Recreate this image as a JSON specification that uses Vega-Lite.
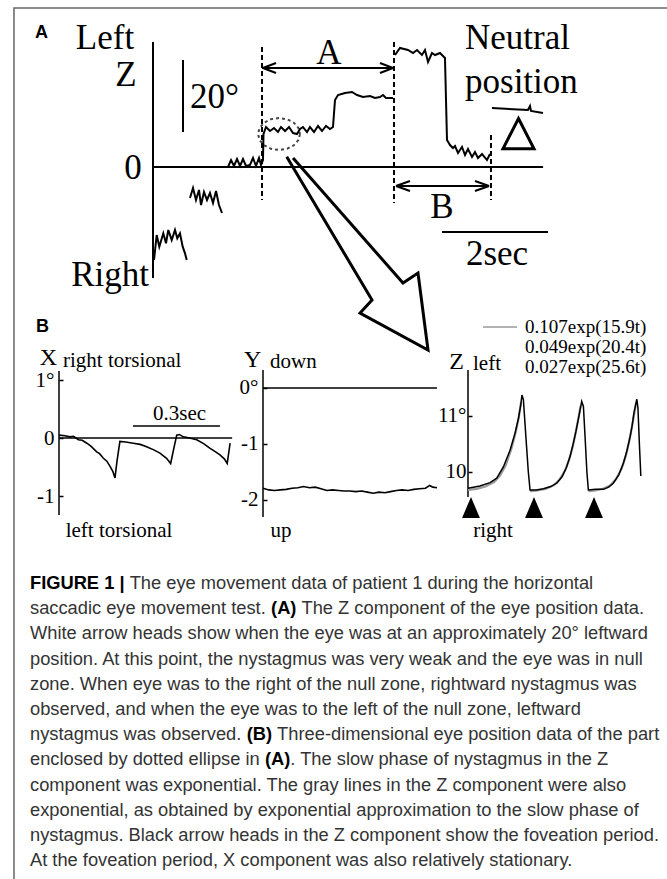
{
  "$schema": "https://vega.github.io/schema/vega-lite/v6.json",
  "width": 667,
  "height": 879,
  "autosize": {"type": "none"},
  "padding": 0,
  "background": "white",
  "config": {"view": {"stroke": null}},
  "datasets": {
    "a_trace": [
      {"seg":1,"t":0.019,"d":-25.83},{"seg":1,"t":0.070,"d":-18.89},{"seg":1,"t":0.119,"d":-22.14},{"seg":1,"t":0.194,"d":-18.42},{"seg":1,"t":0.245,"d":-21.19},{"seg":1,"t":0.289,"d":-17.5},{"seg":1,"t":0.353,"d":-20.28},{"seg":1,"t":0.415,"d":-17.5},{"seg":1,"t":0.458,"d":-19.81},{"seg":1,"t":0.509,"d":-18.42},{"seg":1,"t":0.560,"d":-22.14},{"seg":1,"t":0.604,"d":-23.97},{"seg":1,"t":0.636,"d":-25.83},
      {"seg":2,"t":0.698,"d":-8.61},{"seg":2,"t":0.755,"d":-5.83},{"seg":2,"t":0.811,"d":-9.17},{"seg":2,"t":0.868,"d":-6.39},{"seg":2,"t":0.906,"d":-10.56},{"seg":2,"t":0.962,"d":-6.94},{"seg":2,"t":1.019,"d":-9.17},{"seg":2,"t":1.075,"d":-7.22},{"seg":2,"t":1.132,"d":-10.0},{"seg":2,"t":1.189,"d":-6.67},{"seg":2,"t":1.245,"d":-10.56},{"seg":2,"t":1.302,"d":-12.78},
      {"seg":3,"t":1.415,"d":0},{"seg":3,"t":1.472,"d":1.94},{"seg":3,"t":1.528,"d":0.28},{"seg":3,"t":1.585,"d":2.22},{"seg":3,"t":1.642,"d":0.28},{"seg":3,"t":1.698,"d":2.22},{"seg":3,"t":1.755,"d":0.28},{"seg":3,"t":1.83,"d":0.56},{"seg":3,"t":1.887,"d":2.5},{"seg":3,"t":1.943,"d":0.28},{"seg":3,"t":2.0,"d":2.5},{"seg":3,"t":2.038,"d":0.56},{"seg":3,"t":2.075,"d":1.94},{"seg":3,"t":2.085,"d":9.17},{"seg":3,"t":2.132,"d":11.11},{"seg":3,"t":2.208,"d":10.0},{"seg":3,"t":2.283,"d":10.83},{"seg":3,"t":2.358,"d":9.72},{"seg":3,"t":2.415,"d":11.11},{"seg":3,"t":2.491,"d":10.0},{"seg":3,"t":2.566,"d":11.11},{"seg":3,"t":2.642,"d":9.44},{"seg":3,"t":2.717,"d":9.17},{"seg":3,"t":2.774,"d":10.56},{"seg":3,"t":2.83,"d":11.11},{"seg":3,"t":2.906,"d":9.72},{"seg":3,"t":2.962,"d":11.11},{"seg":3,"t":3.038,"d":9.72},{"seg":3,"t":3.113,"d":11.39},{"seg":3,"t":3.189,"d":10.0},{"seg":3,"t":3.264,"d":11.39},{"seg":3,"t":3.34,"d":10.56},{"seg":3,"t":3.396,"d":11.11},{"seg":3,"t":3.434,"d":18.61},{"seg":3,"t":3.491,"d":20.0},{"seg":3,"t":3.623,"d":20.56},{"seg":3,"t":3.755,"d":20.83},{"seg":3,"t":3.849,"d":20.0},{"seg":3,"t":3.962,"d":19.44},{"seg":3,"t":4.094,"d":19.72},{"seg":3,"t":4.189,"d":19.17},{"seg":3,"t":4.283,"d":19.44},{"seg":3,"t":4.34,"d":20.0},{"seg":3,"t":4.396,"d":19.17},{"seg":3,"t":4.528,"d":19.17},
      {"seg":4,"t":4.566,"d":31.11},{"seg":4,"t":4.66,"d":33.06},{"seg":4,"t":4.811,"d":32.5},{"seg":4,"t":4.906,"d":31.67},{"seg":4,"t":4.981,"d":32.5},{"seg":4,"t":5.075,"d":31.11},{"seg":4,"t":5.132,"d":32.5},{"seg":4,"t":5.189,"d":29.17},{"seg":4,"t":5.264,"d":31.67},{"seg":4,"t":5.321,"d":31.11},{"seg":4,"t":5.415,"d":31.67},{"seg":4,"t":5.509,"d":30.28},{"seg":4,"t":5.547,"d":7.5},{"seg":4,"t":5.604,"d":6.11},{"seg":4,"t":5.66,"d":5.28},{"seg":4,"t":5.698,"d":5.83},{"seg":4,"t":5.755,"d":3.89},{"seg":4,"t":5.83,"d":5.56},{"seg":4,"t":5.887,"d":3.33},{"seg":4,"t":5.943,"d":5.0},{"seg":4,"t":6.019,"d":2.78},{"seg":4,"t":6.075,"d":4.17},{"seg":4,"t":6.132,"d":2.5},{"seg":4,"t":6.208,"d":3.61},{"seg":4,"t":6.302,"d":1.94},{"seg":4,"t":6.358,"d":3.61},
      {"seg":5,"t":6.396,"d":16.39},{"seg":5,"t":7.075,"d":15.83},{"seg":5,"t":7.113,"d":16.94},{"seg":5,"t":7.132,"d":15.56},{"seg":5,"t":7.358,"d":15.0}
    ],
    "a_rule": [
      {"t":0,"d":34.72,"t2":0,"d2":-30.83},
      {"t":0,"d":0,"t2":7.36,"d2":0},
      {"t":0.566,"d":29.72,"t2":0.566,"d2":9.72},
      {"t":2.057,"d":27.5,"t2":4.547,"d2":27.5},
      {"t":2.075,"d":27.5,"t2":2.321,"d2":28.89},
      {"t":2.075,"d":27.5,"t2":2.321,"d2":26.11},
      {"t":4.528,"d":27.5,"t2":4.283,"d2":28.89},
      {"t":4.528,"d":27.5,"t2":4.283,"d2":26.11},
      {"t":4.585,"d":-5.28,"t2":6.34,"d2":-5.28},
      {"t":4.585,"d":-5.28,"t2":4.849,"d2":-3.89},
      {"t":4.585,"d":-5.28,"t2":4.849,"d2":-6.67},
      {"t":6.34,"d":-5.28,"t2":6.075,"d2":-3.89},
      {"t":6.34,"d":-5.28,"t2":6.075,"d2":-6.67},
      {"t":5.453,"d":-18.06,"t2":7.453,"d2":-18.06}
    ],
    "a_dash": [
      {"t":2.057,"d":33.33,"d2":-9.17},
      {"t":4.547,"d":34.72,"d2":-10.0},
      {"t":6.377,"d":8.89,"d2":-9.17}
    ],
    "a_border": [
      {"t":9.698,"d":44.17},{"t":-2.623,"d":44.17},{"t":-2.623,"d":-197.78}
    ],
    "a_ellipse": [
      {"t":2.774,"d":9.17},{"t":2.743,"d":7.47},{"t":2.657,"d":6.03},{"t":2.528,"d":5.06},{"t":2.377,"d":4.72},{"t":2.226,"d":5.06},{"t":2.098,"d":6.03},{"t":2.011,"d":7.47},{"t":1.981,"d":9.17},{"t":2.011,"d":10.86},{"t":2.098,"d":12.31},{"t":2.226,"d":13.28},{"t":2.377,"d":13.61},{"t":2.528,"d":13.28},{"t":2.657,"d":12.31},{"t":2.743,"d":10.86},{"t":2.774,"d":9.17}
    ],
    "a_arrow": [
      {"t":2.523,"d":2.86},{"t":4.132,"d":-36.94},{"t":3.906,"d":-40.56},{"t":5.189,"d":-50.83},{"t":5.0,"d":-29.44},{"t":4.717,"d":-32.22},{"t":2.642,"d":2.5}
    ],
    "a_delta": [{"t":6.896,"d":9.17}],
    "a_text_c": [
      {"t":-0.906,"d":35.83,"s":"Left"},
      {"t":-0.509,"d":25.56,"s":"Z"},
      {"t":-0.377,"d":-0.28,"s":"0"},
      {"t":-0.811,"d":-30.0,"s":"Right"},
      {"t":3.321,"d":31.67,"s":"A"},
      {"t":5.453,"d":-11.11,"s":"B"},
      {"t":6.491,"d":-24.17,"s":"2sec"}
    ],
    "a_text_l": [
      {"t":0.698,"d":19.44,"s":"20°"},
      {"t":5.887,"d":35.83,"s":"Neutral"},
      {"t":5.887,"d":23.61,"s":"position"}
    ],
    "a_label": [
      {"t":-2.104,"d":37.22,"s":"A"},
      {"t":-2.085,"d":-44.31,"s":"B"}
    ],
    "x_rule": [
      {"t":0,"v":1.155,"t2":0,"v2":-1.328},
      {"t":0,"v":0,"t2":0.597,"v2":0},
      {"t":0.255,"v":0.207,"t2":0.555,"v2":0.207}
    ],
    "x_trace": [
      {"t":0.0,"v":0.05},{"t":0.02,"v":0.04},{"t":0.038,"v":0.02},{"t":0.05,"v":0.03},{"t":0.067,"v":-0.03},{"t":0.08,"v":-0.04},{"t":0.096,"v":-0.09},{"t":0.11,"v":-0.14},{"t":0.13,"v":-0.24},{"t":0.14,"v":-0.27},{"t":0.153,"v":-0.35},{"t":0.165,"v":-0.4},{"t":0.176,"v":-0.49},{"t":0.186,"v":-0.58},{"t":0.193,"v":-0.69},{"t":0.2,"v":-0.4},{"t":0.21,"v":-0.06},{"t":0.23,"v":-0.07},{"t":0.256,"v":-0.09},{"t":0.28,"v":-0.11},{"t":0.302,"v":-0.15},{"t":0.325,"v":-0.2},{"t":0.348,"v":-0.26},{"t":0.36,"v":-0.31},{"t":0.371,"v":-0.35},{"t":0.385,"v":-0.44},{"t":0.395,"v":-0.2},{"t":0.406,"v":0.05},{"t":0.415,"v":0.06},{"t":0.429,"v":0.02},{"t":0.45,"v":0.0},{"t":0.475,"v":-0.03},{"t":0.5,"v":-0.1},{"t":0.521,"v":-0.18},{"t":0.54,"v":-0.24},{"t":0.555,"v":-0.29},{"t":0.57,"v":-0.36},{"t":0.58,"v":-0.44},{"t":0.59,"v":-0.09}
    ],
    "x_text_c": [
      {"t":0.4155,"v":0.422,"s":"0.3sec"},
      {"t":0.207,"v":-1.603,"s":"left torsional"}
    ],
    "x_text_big": [{"t":-0.0362,"v":1.371,"s":"X"}],
    "x_text_l": [{"t":0.0138,"v":1.328,"s":"right torsional"}],
    "y_rule": [
      {"t":0,"v":0.321,"t2":0,"v2":-2.304},
      {"t":0,"v":0,"t2":0.6,"v2":0}
    ],
    "y_trace": [
      {"t":0.0,"v":-1.79},{"t":0.02,"v":-1.82},{"t":0.04,"v":-1.83},{"t":0.06,"v":-1.82},{"t":0.08,"v":-1.81},{"t":0.1,"v":-1.79},{"t":0.12,"v":-1.78},{"t":0.14,"v":-1.76},{"t":0.16,"v":-1.78},{"t":0.18,"v":-1.77},{"t":0.2,"v":-1.80},{"t":0.22,"v":-1.83},{"t":0.24,"v":-1.82},{"t":0.26,"v":-1.83},{"t":0.28,"v":-1.84},{"t":0.3,"v":-1.84},{"t":0.32,"v":-1.85},{"t":0.34,"v":-1.84},{"t":0.36,"v":-1.86},{"t":0.38,"v":-1.88},{"t":0.4,"v":-1.86},{"t":0.42,"v":-1.87},{"t":0.44,"v":-1.85},{"t":0.46,"v":-1.83},{"t":0.48,"v":-1.82},{"t":0.5,"v":-1.83},{"t":0.52,"v":-1.81},{"t":0.54,"v":-1.80},{"t":0.56,"v":-1.79},{"t":0.575,"v":-1.74},{"t":0.585,"v":-1.77},{"t":0.6,"v":-1.78}
    ],
    "y_text_big": [{"t":-0.036,"v":0.5,"s":"Y"}],
    "y_text_l": [{"t":0.0241,"v":0.464,"s":"down"}],
    "y_text_c": [{"t":0.062,"v":-2.554,"s":"up"}],
    "z_rule": [{"t":0,"v":11.821,"t2":0,"v2":9.554}],
    "z_legend": [{"t":0.0517,"v":12.589,"t2":0.169,"v2":12.589}],
    "z_trace": [
      {"t":0.0,"v":9.71},{"t":0.041,"v":9.75},{"t":0.076,"v":9.81},{"t":0.099,"v":9.89},{"t":0.122,"v":10.09},{"t":0.145,"v":10.39},{"t":0.162,"v":10.69},{"t":0.174,"v":10.96},{"t":0.182,"v":11.2},{"t":0.186,"v":11.375},{"t":0.191,"v":11.29},{"t":0.2,"v":10.6},{"t":0.208,"v":10.0},{"t":0.214,"v":9.68},{"t":0.235,"v":9.68},{"t":0.26,"v":9.7},{"t":0.285,"v":9.74},{"t":0.306,"v":9.8},{"t":0.325,"v":9.92},{"t":0.34,"v":10.09},{"t":0.352,"v":10.28},{"t":0.363,"v":10.51},{"t":0.372,"v":10.72},{"t":0.38,"v":10.93},{"t":0.387,"v":11.12},{"t":0.392,"v":11.26},{"t":0.398,"v":11.17},{"t":0.405,"v":10.5},{"t":0.41,"v":10.0},{"t":0.415,"v":9.68},{"t":0.44,"v":9.69},{"t":0.467,"v":9.69},{"t":0.485,"v":9.73},{"t":0.501,"v":9.8},{"t":0.52,"v":9.95},{"t":0.536,"v":10.16},{"t":0.548,"v":10.38},{"t":0.559,"v":10.63},{"t":0.566,"v":10.83},{"t":0.572,"v":11.05},{"t":0.578,"v":11.2},{"t":0.582,"v":11.3},{"t":0.586,"v":11.15},{"t":0.591,"v":10.5},{"t":0.596,"v":9.93}
    ],
    "z_fit": [
      {"seg":1,"t":0.0,"v":9.68},{"seg":1,"t":0.03,"v":9.7},{"seg":1,"t":0.06,"v":9.74},{"seg":1,"t":0.09,"v":9.82},{"seg":1,"t":0.11,"v":9.93},{"seg":1,"t":0.13,"v":10.12},{"seg":1,"t":0.15,"v":10.42},{"seg":1,"t":0.165,"v":10.72},{"seg":1,"t":0.175,"v":10.97},{"seg":1,"t":0.183,"v":11.25},
      {"seg":2,"t":0.214,"v":9.66},{"seg":2,"t":0.24,"v":9.67},{"seg":2,"t":0.27,"v":9.7},{"seg":2,"t":0.295,"v":9.76},{"seg":2,"t":0.315,"v":9.86},{"seg":2,"t":0.335,"v":10.03},{"seg":2,"t":0.35,"v":10.24},{"seg":2,"t":0.362,"v":10.47},{"seg":2,"t":0.372,"v":10.72},{"seg":2,"t":0.381,"v":10.97},{"seg":2,"t":0.388,"v":11.18},
      {"seg":3,"t":0.415,"v":9.66},{"seg":3,"t":0.44,"v":9.67},{"seg":3,"t":0.465,"v":9.7},{"seg":3,"t":0.49,"v":9.76},{"seg":3,"t":0.51,"v":9.87},{"seg":3,"t":0.53,"v":10.06},{"seg":3,"t":0.545,"v":10.3},{"seg":3,"t":0.556,"v":10.55},{"seg":3,"t":0.566,"v":10.82},{"seg":3,"t":0.574,"v":11.06},{"seg":3,"t":0.58,"v":11.24}
    ],
    "z_tri": [{"t":0.0103,"v":9.366},{"t":0.2276,"v":9.366},{"t":0.4345,"v":9.366}],
    "z_text_big": [{"t":-0.0397,"v":11.973,"s":"Z"}],
    "z_text_l": [{"t":0.0172,"v":11.929,"s":"left"}],
    "z_text_c": [{"t":0.0862,"v":8.946,"s":"right"}],
    "z_legend_text": [
      {"t":0.1966,"v":12.589,"s":"0.107exp(15.9t)"},
      {"t":0.1966,"v":12.232,"s":"0.049exp(20.4t)"},
      {"t":0.1966,"v":11.875,"s":"0.027exp(25.6t)"}
    ],
    "cap_r": [
      {"line":1,"em":5.448,"s":"The eye movement data of patient 1 during the horizontal"},
      {"line":2,"em":0,"s":"saccadic eye movement test."},
      {"line":2,"em":14.838,"s":"The Z component of the eye position data."},
      {"line":3,"em":0,"s":"White arrow heads show when the eye was at an approximately 20° leftward"},
      {"line":4,"em":0,"s":"position. At this point, the nystagmus was very weak and the eye was in null"},
      {"line":5,"em":0,"s":"zone. When eye was to the right of the null zone, rightward nystagmus was"},
      {"line":6,"em":0,"s":"observed, and when the eye was to the left of the null zone, leftward"},
      {"line":7,"em":0,"s":"nystagmus was observed."},
      {"line":7,"em":13.504,"s":"Three-dimensional eye position data of the part"},
      {"line":8,"em":0,"s":"enclosed by dotted ellipse in"},
      {"line":8,"em":14.228,"s":". The slow phase of nystagmus in the Z"},
      {"line":9,"em":0,"s":"component was exponential. The gray lines in the Z component were also"},
      {"line":10,"em":0,"s":"exponential, as obtained by exponential approximation to the slow phase of"},
      {"line":11,"em":0,"s":"nystagmus. Black arrow heads in the Z component show the foveation period."},
      {"line":12,"em":0,"s":"At the foveation period, X component was also relatively stationary."}
    ],
    "cap_b": [
      {"line":1,"em":0,"s":"FIGURE 1 |"},
      {"line":2,"em":13.172,"s":"(A)"},
      {"line":7,"em":11.838,"s":"(B)"},
      {"line":8,"em":12.84,"s":"(A)"}
    ]
  },
  "layer": [
    {
      "encoding": {
        "x": {"field": "t", "type": "quantitative", "scale": {"domain": [-2.8868, 9.6981], "nice": false, "zero": false}, "axis": null},
        "y": {"field": "d", "type": "quantitative", "scale": {"domain": [-197.78, 46.39], "nice": false, "zero": false}, "axis": null}
      },
      "layer": [
        {"data": {"name": "a_border"}, "mark": {"type": "line", "color": "#666", "strokeWidth": 1.5}, "encoding": {"order": {"value": null}}},
        {"data": {"name": "a_rule"}, "mark": {"type": "rule", "color": "black", "strokeWidth": 2}, "encoding": {"x2": {"field": "t2"}, "y2": {"field": "d2"}}},
        {"data": {"name": "a_dash"}, "mark": {"type": "rule", "color": "black", "strokeWidth": 2, "strokeDash": [5, 3]}, "encoding": {"y2": {"field": "d2"}}},
        {"data": {"name": "a_ellipse"}, "mark": {"type": "line", "color": "#444", "strokeWidth": 2, "strokeDash": [3, 3]}, "encoding": {"order": {"value": null}}},
        {"data": {"name": "a_arrow"}, "mark": {"type": "line", "color": "black", "strokeWidth": 3, "strokeJoin": "miter"}, "encoding": {"order": {"value": null}}},
        {"data": {"name": "a_trace"}, "mark": {"type": "line", "color": "black", "strokeWidth": 2}, "encoding": {"detail": {"field": "seg", "type": "nominal"}, "order": {"value": null}}},
        {"data": {"name": "a_delta"}, "mark": {"type": "point", "shape": "M0,-1L1,0.95L-1,0.95Z", "size": 961, "filled": false, "color": "black", "strokeWidth": 3, "opacity": 1}},
        {"data": {"name": "a_text_c"}, "mark": {"type": "text", "font": "Liberation Serif", "fontSize": 35, "align": "center", "baseline": "middle", "color": "black"}, "encoding": {"text": {"field": "s"}}},
        {"data": {"name": "a_text_l"}, "mark": {"type": "text", "font": "Liberation Serif", "fontSize": 35, "align": "left", "baseline": "middle", "color": "black"}, "encoding": {"text": {"field": "s"}}},
        {"data": {"name": "a_label"}, "mark": {"type": "text", "font": "Liberation Sans", "fontWeight": "bold", "fontSize": 18, "align": "center", "baseline": "middle", "color": "black"}, "encoding": {"text": {"field": "s"}}}
      ]
    },
    {
      "encoding": {
        "x": {"field": "t", "type": "quantitative", "scale": {"domain": [-0.20345, 2.09655], "nice": false, "zero": false}, "axis": null},
        "y": {"field": "v", "type": "quantitative", "scale": {"domain": [-7.6034, 7.5517], "nice": false, "zero": false},
          "axis": {"orient": "left", "offset": -59, "values": [1, 0, -1], "labelExpr": "datum.value == 1 ? '1°' : datum.value == 0 ? '0' : '-1'", "domain": false, "grid": false, "ticks": true, "tickSize": -4, "tickWidth": 1.5, "tickColor": "black", "labelFont": "Liberation Serif", "labelFontSize": 21, "labelColor": "black", "labelPadding": 9, "title": null}}
      },
      "layer": [
        {"data": {"name": "x_rule"}, "mark": {"type": "rule", "color": "black", "strokeWidth": 1.5}, "encoding": {"x2": {"field": "t2"}, "y2": {"field": "v2"}}},
        {"data": {"name": "x_trace"}, "mark": {"type": "line", "color": "black", "strokeWidth": 1.6}, "encoding": {"order": {"value": null}}},
        {"data": {"name": "x_text_big"}, "mark": {"type": "text", "font": "Liberation Serif", "fontSize": 24, "align": "center", "baseline": "middle", "color": "black"}, "encoding": {"text": {"field": "s"}}},
        {"data": {"name": "x_text_l"}, "mark": {"type": "text", "font": "Liberation Serif", "fontSize": 21, "align": "left", "baseline": "middle", "color": "black"}, "encoding": {"text": {"field": "s"}}},
        {"data": {"name": "x_text_c"}, "mark": {"type": "text", "font": "Liberation Serif", "fontSize": 21, "align": "center", "baseline": "middle", "color": "black"}, "encoding": {"text": {"field": "s"}}}
      ]
    },
    {
      "encoding": {
        "x": {"field": "t", "type": "quantitative", "scale": {"domain": [-0.9069, 1.3931], "nice": false, "zero": false}, "axis": null},
        "y": {"field": "v", "type": "quantitative", "scale": {"domain": [-8.7679, 6.9286], "nice": false, "zero": false},
          "axis": {"orient": "left", "offset": -263, "values": [0, -1, -2], "labelExpr": "datum.value == 0 ? '0°' : datum.value == -1 ? '-1' : '-2'", "domain": false, "grid": false, "ticks": true, "tickSize": -4, "tickWidth": 1.5, "tickColor": "black", "labelFont": "Liberation Serif", "labelFontSize": 21, "labelColor": "black", "labelPadding": 9, "title": null}}
      },
      "layer": [
        {"data": {"name": "y_rule"}, "mark": {"type": "rule", "color": "black", "strokeWidth": 1.5}, "encoding": {"x2": {"field": "t2"}, "y2": {"field": "v2"}}},
        {"data": {"name": "y_trace"}, "mark": {"type": "line", "color": "black", "strokeWidth": 1.6}, "encoding": {"order": {"value": null}}},
        {"data": {"name": "y_text_big"}, "mark": {"type": "text", "font": "Liberation Serif", "fontSize": 24, "align": "center", "baseline": "middle", "color": "black"}, "encoding": {"text": {"field": "s"}}},
        {"data": {"name": "y_text_l"}, "mark": {"type": "text", "font": "Liberation Serif", "fontSize": 21, "align": "left", "baseline": "middle", "color": "black"}, "encoding": {"text": {"field": "s"}}},
        {"data": {"name": "y_text_c"}, "mark": {"type": "text", "font": "Liberation Serif", "fontSize": 21, "align": "center", "baseline": "middle", "color": "black"}, "encoding": {"text": {"field": "s"}}}
      ]
    },
    {
      "encoding": {
        "x": {"field": "t", "type": "quantitative", "scale": {"domain": [-1.61379, 0.68621], "nice": false, "zero": false}, "axis": null},
        "y": {"field": "v", "type": "quantitative", "scale": {"domain": [2.7321, 18.4286], "nice": false, "zero": false},
          "axis": {"orient": "left", "offset": -468, "values": [11, 10], "labelExpr": "datum.value == 11 ? '11°' : '10'", "domain": false, "grid": false, "ticks": true, "tickSize": -4, "tickWidth": 1.5, "tickColor": "black", "labelFont": "Liberation Serif", "labelFontSize": 21, "labelColor": "black", "labelPadding": 6, "title": null}}
      },
      "layer": [
        {"data": {"name": "z_rule"}, "mark": {"type": "rule", "color": "black", "strokeWidth": 1.5}, "encoding": {"y2": {"field": "v2"}}},
        {"data": {"name": "z_legend"}, "mark": {"type": "rule", "color": "#999", "strokeWidth": 1.5}, "encoding": {"x2": {"field": "t2"}}},
        {"data": {"name": "z_fit"}, "mark": {"type": "line", "color": "#9a9a9a", "strokeWidth": 2.2}, "encoding": {"detail": {"field": "seg", "type": "nominal"}, "order": {"value": null}}},
        {"data": {"name": "z_trace"}, "mark": {"type": "line", "color": "black", "strokeWidth": 1.5}, "encoding": {"order": {"value": null}}},
        {"data": {"name": "z_tri"}, "mark": {"type": "point", "shape": "M0,-1L0.85,1L-0.85,1Z", "size": 441, "filled": true, "color": "black", "opacity": 1}},
        {"data": {"name": "z_text_big"}, "mark": {"type": "text", "font": "Liberation Serif", "fontSize": 24, "align": "center", "baseline": "middle", "color": "black"}, "encoding": {"text": {"field": "s"}}},
        {"data": {"name": "z_text_l"}, "mark": {"type": "text", "font": "Liberation Serif", "fontSize": 21, "align": "left", "baseline": "middle", "color": "black"}, "encoding": {"text": {"field": "s"}}},
        {"data": {"name": "z_text_c"}, "mark": {"type": "text", "font": "Liberation Serif", "fontSize": 21, "align": "center", "baseline": "middle", "color": "black"}, "encoding": {"text": {"field": "s"}}},
        {"data": {"name": "z_legend_text"}, "mark": {"type": "text", "font": "Liberation Serif", "fontSize": 19, "align": "left", "baseline": "middle", "color": "black"}, "encoding": {"text": {"field": "s"}}}
      ]
    },
    {
      "encoding": {
        "x": {"field": "em", "type": "quantitative", "scale": {"domain": [-1.6393, 34.8087], "nice": false, "zero": false}, "axis": null},
        "y": {"field": "line", "type": "quantitative", "scale": {"domain": [-22.175, 12.706], "reverse": true, "nice": false, "zero": false}, "axis": null}
      },
      "layer": [
        {"data": {"name": "cap_r"}, "mark": {"type": "text", "font": "Liberation Sans", "fontSize": 18.3, "align": "left", "baseline": "middle", "color": "#333"}, "encoding": {"text": {"field": "s"}}},
        {"data": {"name": "cap_b"}, "mark": {"type": "text", "font": "Liberation Sans", "fontWeight": "bold", "fontSize": 18.3, "align": "left", "baseline": "middle", "color": "black"}, "encoding": {"text": {"field": "s"}}}
      ]
    }
  ],
  "resolve": {"scale": {"x": "independent", "y": "independent"}, "axis": {"x": "independent", "y": "independent"}}
}
